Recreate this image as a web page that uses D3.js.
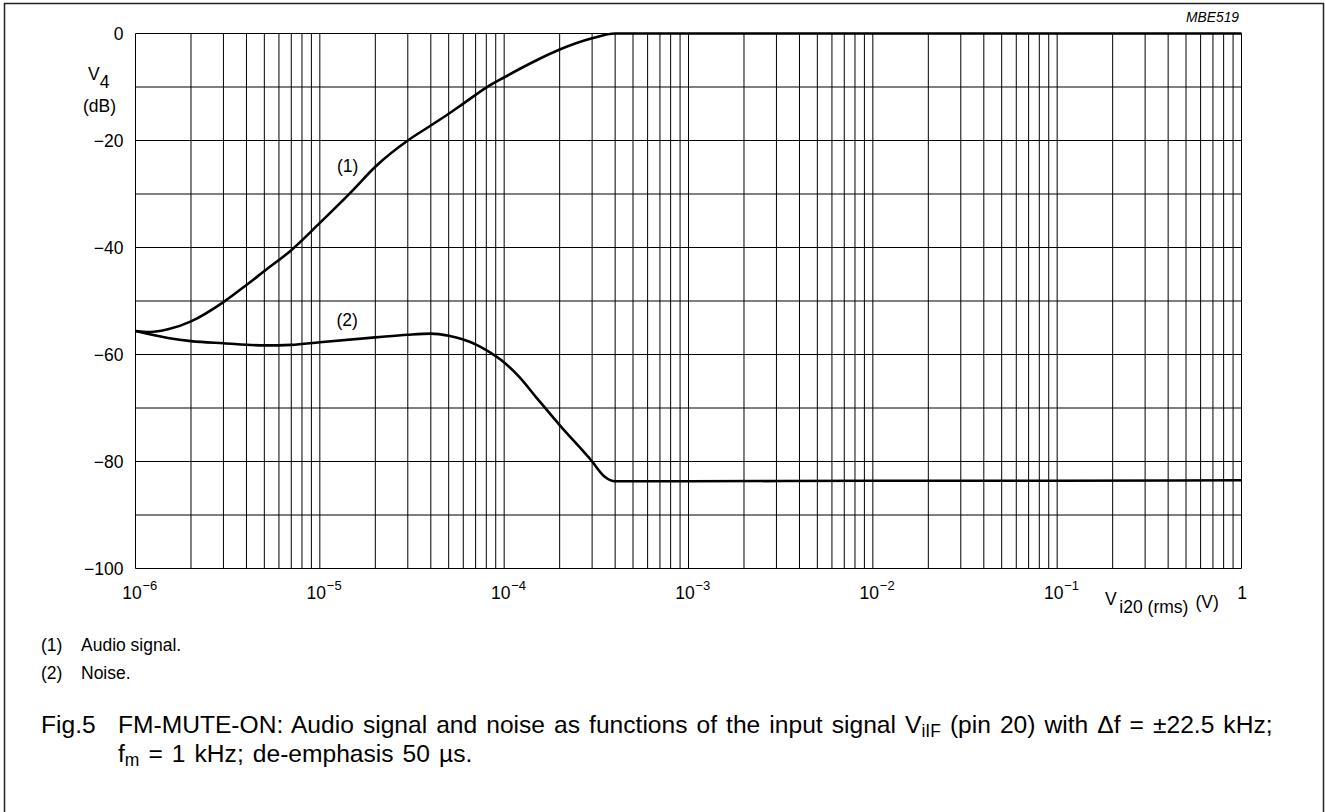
<!DOCTYPE html>
<html>
<head>
<meta charset="utf-8">
<script src="https://cdn.jsdelivr.net/npm/d3@7"></script>
<style>
  html, body { margin: 0; padding: 0; background: #fff; }
  svg { display: block; }
  text { font-family: "Liberation Sans", Arial, sans-serif; fill: #000; }
</style>
</head>
<body>
<svg id="chart" width="1326" height="812"></svg>
<script>
// ---- data ----
const xDomain = [1e-6, 1];
const yDomain = [-100, 0];
const decadeTicks = [1e-6, 1e-5, 1e-4, 1e-3, 1e-2, 1e-1, 1];
const decadeExponents = ["−6", "−5", "−4", "−3", "−2", "−1", ""];
const yTicks = [0, -20, -40, -60, -80, -100];

// (1) Audio signal
const audioX = [1e-6, 1.2e-6, 1.5e-6, 2e-6, 3e-6, 4e-6, 5e-6, 7e-6, 1e-5, 1.5e-5, 2e-5, 3e-5, 4e-5, 5e-5, 6e-5, 8e-5, 1e-4, 1.5e-4, 2e-4, 3e-4, 4e-4, 1e-3, 1e-2, 1e-1, 1];
const audioDb = [-55.6, -55.8, -55.3, -53.8, -50.2, -47.0, -44.4, -40.5, -35.4, -29.4, -24.9, -20.0, -17.2, -15.0, -13.1, -10.1, -8.2, -5.0, -3.0, -0.9, 0, 0, 0, 0, 0];

// (2) Noise
const noiseX = [1e-6, 1.5e-6, 2e-6, 3e-6, 5e-6, 7e-6, 1e-5, 2e-5, 3e-5, 4e-5, 5e-5, 6e-5, 7e-5, 8e-5, 1e-4, 1.2e-4, 1.5e-4, 2e-4, 3e-4, 3.5e-4, 4e-4, 1e-3, 1e-2, 1e-1, 1];
const noiseDb = [-55.6, -56.9, -57.5, -57.9, -58.3, -58.2, -57.7, -56.8, -56.3, -56.1, -56.5, -57.2, -58.1, -59.2, -61.5, -64.1, -68.1, -73.2, -80.0, -82.8, -83.7, -83.7, -83.6, -83.6, -83.5];

const curveLabels = [
  { text: "(1)", x: 1.24e-5, y: -25.9 },
  { text: "(2)", x: 1.23e-5, y: -54.7 }
];

// ---- layout ----
const svg = d3.select("#chart");
const L = 135.5, R = 1241.5, T = 33.5, B = 568.5;
const font = "Liberation Sans, Arial, sans-serif";

// outer frame
svg.append("rect")
  .attr("x", 4.5).attr("y", 3.5).attr("width", 1319).attr("height", 900)
  .attr("fill", "none").attr("stroke", "#222").attr("stroke-width", 1.5);

const x = d3.scaleLog().domain(xDomain).range([L, R]);
const y = d3.scaleLinear().domain(yDomain).range([B, T]);

// grid
const grid = svg.append("g").attr("stroke", "#000").attr("stroke-width", 1).attr("fill", "none");
const minorVals = [];
for (let e = -6; e < 0; e++) {
  for (let m = 1; m <= 9; m++) minorVals.push(m * Math.pow(10, e));
}
minorVals.push(1);
grid.selectAll("line.v").data(minorVals).join("line")
  .attr("class", "v")
  .attr("x1", d => x(d)).attr("x2", d => x(d))
  .attr("y1", T).attr("y2", B);
grid.selectAll("line.h").data(d3.range(-100, 1, 10)).join("line")
  .attr("class", "h")
  .attr("x1", L).attr("x2", R)
  .attr("y1", d => y(d)).attr("y2", d => y(d));

// y axis labels
const yAxis = d3.axisLeft(y).tickValues(yTicks).tickSize(0).tickPadding(12)
  .tickFormat(d => d === 0 ? "0" : "−" + Math.abs(d));
const yg = svg.append("g").attr("transform", `translate(${L},0)`).call(yAxis);
yg.select(".domain").remove();
yg.selectAll("text").attr("font-family", font).attr("font-size", 17.5).attr("fill", "#000");

// x axis labels
const xAxis = d3.axisBottom(x).tickValues(decadeTicks).tickSize(0).tickFormat(() => "");
const xg = svg.append("g").attr("transform", `translate(0,${B})`).call(xAxis);
xg.select(".domain").remove();
xg.selectAll(".tick").each(function(d, i) {
  const g = d3.select(this);
  g.select("text").remove();
  if (decadeExponents[i] === "") {
    g.append("text").attr("x", 0).attr("y", 30).attr("text-anchor", "middle")
      .attr("font-size", 17.5).text("1");
  } else {
    g.append("text").attr("x", -4).attr("y", 30).attr("text-anchor", "middle")
      .attr("font-size", 17.5).text("10");
    g.append("text").attr("x", 6.5).attr("y", 21).attr("text-anchor", "start")
      .attr("font-size", 13).text(decadeExponents[i]);
  }
});

// y axis title
const yt = svg.append("text").attr("x", 88).attr("y", 80).attr("font-size", 17.5);
yt.append("tspan").text("V");
yt.append("tspan").attr("dy", 8).text("4");
svg.append("text").attr("x", 99.5).attr("y", 111.5).attr("text-anchor", "middle")
  .attr("font-size", 17.5).text("(dB)");

// x axis title
const xt = svg.append("text").attr("x", 1105).attr("y", 605).attr("font-size", 17.5);
xt.append("tspan").text("V");
xt.append("tspan").attr("dy", 8).attr("dx", 3).text("i20 (rms)");
xt.append("tspan").attr("dy", -5).attr("dx", 7).text("(V)");

// MBE519
svg.append("text").attr("x", 1239).attr("y", 21.5).attr("text-anchor", "end")
  .attr("font-size", 13.8).attr("font-style", "italic").text("MBE519");

// curves
const line = d3.line().x(d => x(d[0])).y(d => y(d[1])).curve(d3.curveMonotoneX);
svg.append("path").datum(d3.zip(audioX, audioDb)).attr("d", line)
  .attr("fill", "none").attr("stroke", "#000").attr("stroke-width", 2.6);
svg.append("path").datum(d3.zip(noiseX, noiseDb)).attr("d", line)
  .attr("fill", "none").attr("stroke", "#000").attr("stroke-width", 2.6);

// curve labels
svg.selectAll("text.cl").data(curveLabels).join("text")
  .attr("class", "cl")
  .attr("x", d => x(d.x)).attr("y", d => y(d.y))
  .attr("font-size", 17.5).text(d => d.text);

// notes
svg.append("text").attr("x", 41).attr("y", 651).attr("font-size", 17.5).text("(1)");
svg.append("text").attr("x", 81).attr("y", 651).attr("font-size", 17.5).text("Audio signal.");
svg.append("text").attr("x", 41).attr("y", 679).attr("font-size", 17.5).text("(2)");
svg.append("text").attr("x", 81).attr("y", 679).attr("font-size", 17.5).text("Noise.");

// caption
svg.append("text").attr("x", 41).attr("y", 733).attr("font-size", 24.6).text("Fig.5");
const c1 = svg.append("text").attr("x", 118).attr("y", 733).attr("font-size", 24.6).attr("word-spacing", 2.2);
c1.append("tspan").text("FM-MUTE-ON: Audio signal and noise as functions of the input signal V");
c1.append("tspan").attr("font-size", 17.5).attr("dy", 4).text("iIF");
c1.append("tspan").attr("dy", -4).text(" (pin 20) with Δf = ±22.5 kHz;");
const c2 = svg.append("text").attr("x", 118).attr("y", 762).attr("font-size", 24.6).attr("word-spacing", 2.2);
c2.append("tspan").text("f");
c2.append("tspan").attr("font-size", 17.5).attr("dy", 4).text("m");
c2.append("tspan").attr("dy", -4).text(" = 1 kHz; de-emphasis 50 µs.");
</script>
</body>
</html>
